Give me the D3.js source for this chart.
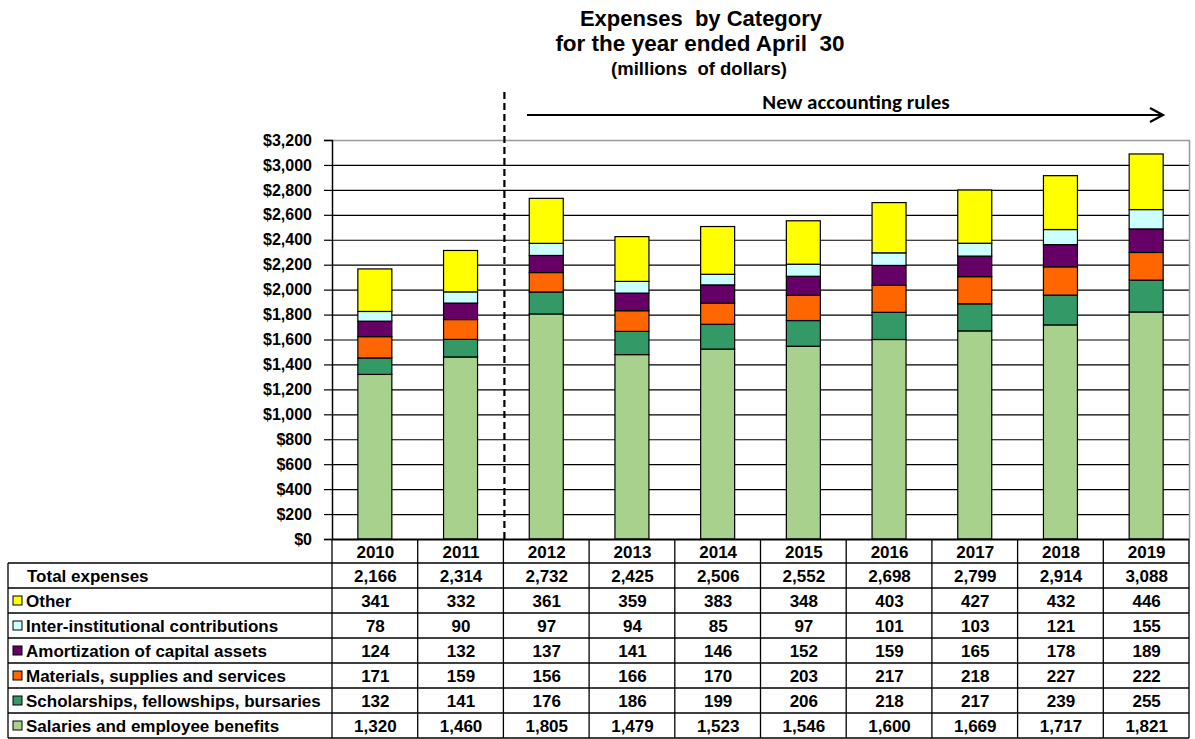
<!DOCTYPE html>
<html><head><meta charset="utf-8">
<script src="https://cdn.jsdelivr.net/npm/d3@7"></script>
<style>body{margin:0;background:#fff}svg{display:block}</style>
</head><body><svg id="c" width="1195" height="739"></svg>
<script>
const years = ["2010","2011","2012","2013","2014","2015","2016","2017","2018","2019"];
const totals = [2166,2314,2732,2425,2506,2552,2698,2799,2914,3088];
const other = [341,332,361,359,383,348,403,427,432,446];
const interInst = [78,90,97,94,85,97,101,103,121,155];
const amortization = [124,132,137,141,146,152,159,165,178,189];
const materials = [171,159,156,166,170,203,217,218,227,222];
const scholarships = [132,141,176,186,199,206,218,217,239,255];
const salaries = [1320,1460,1805,1479,1523,1546,1600,1669,1717,1821];
const yTicks = [0,200,400,600,800,1000,1200,1400,1600,1800,2000,2200,2400,2600,2800,3000,3200];

const seriesStack = [
  {name:"Salaries and employee benefits", values:salaries, color:"#A9D18E"},
  {name:"Scholarships, fellowships, bursaries", values:scholarships, color:"#339966"},
  {name:"Materials, supplies and services", values:materials, color:"#FF6600"},
  {name:"Amortization of capital assets", values:amortization, color:"#660066"},
  {name:"Inter-institutional contributions", values:interInst, color:"#CCFFFF"},
  {name:"Other", values:other, color:"#FFFF00"}
];
const tableRows = seriesStack.slice().reverse();

const svg = d3.select("#c");
const font = "'Liberation Sans', Arial, sans-serif";
const L = 332, R = 1189, T = 140, B = 539;
const x = d3.scaleBand().domain(years).range([L,R]).paddingInner(0).paddingOuter(0);
const y = d3.scaleLinear().domain([0,3200]).range([B,T]);

// Title
const title = svg.append("g").attr("font-family",font).attr("font-weight","bold").attr("text-anchor","middle").attr("fill","#000");
title.append("text").attr("x",701).attr("y",26).attr("font-size",22).attr("xml:space","preserve").text("Expenses  by Category");
title.append("text").attr("x",700).attr("y",51).attr("font-size",22.5).attr("xml:space","preserve").text("for the year ended April  30");
title.append("text").attr("x",699).attr("y",75).attr("font-size",18.5).attr("xml:space","preserve").text("(millions  of dollars)");

// gridlines
svg.append("g").selectAll("line").data(yTicks.filter(d=>d>0)).join("line")
  .attr("x1",L).attr("x2",R).attr("y1",d=>y(d)+0.5).attr("y2",d=>y(d)+0.5)
  .attr("stroke","#000").attr("stroke-width",1.2);
svg.append("path").attr("d",`M${L},${T+0.5}H${R+0.5}V${B}`).attr("fill","none").attr("stroke","#999").attr("stroke-width",1.5);

// bars
const stackData = years.map((yr,i)=>{const o={year:yr}; seriesStack.forEach((s,k)=>o[k]=s.values[i]); return o;});
const stack = d3.stack().keys(seriesStack.map((s,k)=>k))(stackData);
const bw = 34;
svg.append("g").selectAll("g").data(stack).join("g")
  .attr("fill",(d,k)=>seriesStack[k].color)
  .selectAll("rect").data(d=>d).join("rect")
  .attr("x",d=>x(d.data.year)+x.bandwidth()/2-bw/2)
  .attr("y",d=>y(d[1]))
  .attr("width",bw)
  .attr("height",d=>y(d[0])-y(d[1]))
  .attr("stroke","#000").attr("stroke-width",1.2);

// y axis
const yAxis = d3.axisLeft(y).tickValues(yTicks).tickFormat(d=>"$"+d3.format(",")(d)).tickSize(8).tickPadding(12);
const ya = svg.append("g").attr("transform",`translate(${L},0)`).call(yAxis);
ya.select(".domain").attr("stroke","#000").attr("stroke-width",1.5);
ya.selectAll(".tick line").attr("stroke","#000").attr("stroke-width",1.2);
ya.selectAll(".tick text").attr("font-family",font).attr("font-weight","bold").attr("font-size",16).attr("fill","#000");

// divider dashed line
svg.append("line").attr("x1",x("2012")+1).attr("x2",x("2012")+1).attr("y1",92).attr("y2",B)
  .attr("stroke","#000").attr("stroke-width",2.2).attr("stroke-dasharray","7,4");

// arrow
svg.append("line").attr("x1",527).attr("x2",1162).attr("y1",115).attr("y2",115).attr("stroke","#000").attr("stroke-width",2.2);
svg.append("path").attr("d","M1150,108 L1163,115 L1150,122").attr("fill","none").attr("stroke","#000").attr("stroke-width",2.2);
svg.append("text").attr("x",856).attr("y",109).attr("text-anchor","middle").attr("font-family","Carlito, Lato, 'Open Sans', sans-serif")
  .attr("font-weight","bold").attr("font-size",21).text("New accounting rules");

// table
const rowH = 25;
const tbl = svg.append("g").attr("font-family",font).attr("font-weight","bold").attr("font-size",17).attr("fill","#000");
const headTop = B, firstRow = 563;
const nRows = 1 + tableRows.length;
const tableBottom = firstRow + nRows*rowH;
const tl = tbl.append("g").attr("stroke","#000").attr("stroke-width",1.3);
years.forEach((yr,i)=>{
  tl.append("line").attr("x1",x(yr)).attr("x2",x(yr)).attr("y1",headTop).attr("y2",tableBottom);
});
tl.append("line").attr("x1",R).attr("x2",R).attr("y1",headTop).attr("y2",tableBottom);
tl.append("line").attr("x1",L).attr("x2",R).attr("y1",headTop+0.5).attr("y2",headTop+0.5).attr("stroke-width",2);
tl.append("line").attr("x1",8).attr("x2",8).attr("y1",firstRow).attr("y2",tableBottom);
for(let r=0;r<=nRows;r++){
  tl.append("line").attr("x1",8).attr("x2",R).attr("y1",firstRow+r*rowH).attr("y2",firstRow+r*rowH);
}
const cx = i => x(years[i])+x.bandwidth()/2+0.5;
tbl.selectAll("text.yr").data(years).join("text").attr("class","yr")
  .attr("x",(d,i)=>cx(i)).attr("y",headTop+18.5).attr("text-anchor","middle").text(d=>d);
tbl.append("text").attr("x",27).attr("y",firstRow+18.5).text("Total expenses");
tbl.selectAll("text.tot").data(totals).join("text").attr("class","tot")
  .attr("x",(d,i)=>cx(i)).attr("y",firstRow+18.5).attr("text-anchor","middle").text(d=>d3.format(",")(d));
tableRows.forEach((s,r)=>{
  const yy = firstRow+(r+1)*rowH;
  tbl.append("rect").attr("x",13).attr("y",yy+8).attr("width",9).attr("height",9).attr("fill",s.color).attr("stroke","#000").attr("stroke-width",1);
  tbl.append("text").attr("x",26).attr("y",yy+18.5).text(s.name);
  s.values.forEach((v,i)=>{
    tbl.append("text").attr("x",cx(i)).attr("y",yy+18.5).attr("text-anchor","middle").text(d3.format(",")(v));
  });
});
</script></body></html>
